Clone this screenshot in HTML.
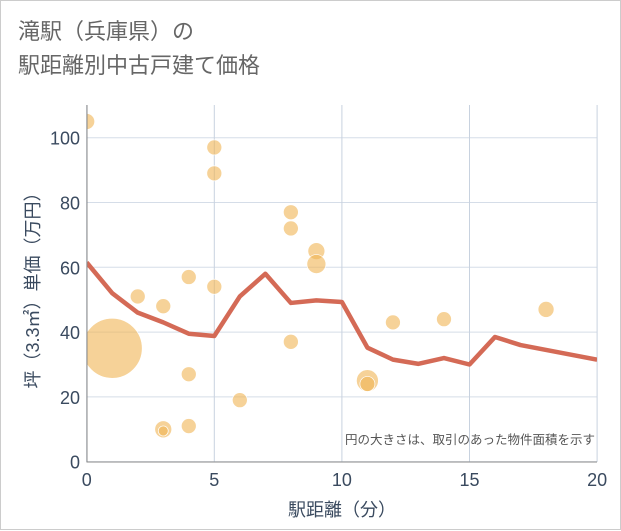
<!DOCTYPE html>
<html><head><meta charset="utf-8"><style>
body{margin:0;background:#fff;}
.w{width:619px;height:528px;border:1px solid #ccc;position:relative;background:#fff;font-family:"Liberation Sans","Noto Sans CJK JP",sans-serif;}
.t{position:absolute;left:17px;top:14px;font-size:22px;line-height:34px;color:#666;}
</style></head><body>
<div class="w">
<div class="t">滝駅（兵庫県）の<br>駅距離別中古戸建て価格</div>
<svg id="s" width="621" height="530" style="position:absolute;left:0;top:0"></svg>
</div>
<script>
const lineX=[0,1,2,3,4,5,6,7,8,9,10,11,12,13,14,15,16,17,18,19,20];
const lineY=[61.5,52,46,43,39.5,38.8,51,58,49,49.8,49.3,35.2,31.5,30.2,32,30,38.5,36,34.5,33,31.5];
const bubX=[0,1,2,3,3,3,4,4,4,5,5,5,6,8,8,8,9,9,11,11,12,14,18];
const bubY=[105,35,51,48,10,9.5,57,27,11,97,89,54,19,77,72,37,65,61,25,24,43,44,47];
const bubR=[8,30,7.5,7.5,8.5,5,7.5,7.5,7.5,7.5,7.5,7.5,7.5,7.5,7.5,7.5,8.5,9.5,11,7.5,7.5,7.5,8];
const xTicks=[0,5,10,15,20];
const yTicks=[0,20,40,60,80,100];
const NS="http://www.w3.org/2000/svg";
const s=document.getElementById('s');
const X=v=>85.7+v*25.52, Y=v=>460.7-v*3.24;
const TC='#3a4a5f';
function mk(t,a,p){const e=document.createElementNS(NS,t);for(const k in a)e.setAttribute(k,a[k]);(p||s).appendChild(e);return e;}
const defs=mk('defs',{});const cp=mk('clipPath',{id:'c'},defs);mk('rect',{x:86,y:104,width:510,height:357},cp);
yTicks.forEach(v=>{const l=mk('line',{x1:86,x2:596,y1:Y(v),y2:Y(v),stroke:'#d5dde8','stroke-width':1});


const t=mk('text',{x:79,y:Y(v)+7,'text-anchor':'end','font-size':18,fill:TC});t.textContent=v;

});
xTicks.forEach(v=>{const l=mk('line',{x1:X(v),x2:X(v),y1:104,y2:461,stroke:'#c8d2df','stroke-width':1});


const t=mk('text',{x:X(v),y:485,'text-anchor':'middle','font-size':18,fill:TC});t.textContent=v;

});
const g=mk('g',{'clip-path':'url(#c)'});
bubX.forEach((x,i)=>{const c=mk('circle',{cx:X(x),cy:Y(bubY[i]),r:bubR[i],fill:'#f0b453','fill-opacity':0.6,stroke:'#fff','stroke-width':0.7},g);

});
const p=mk('polyline',{points:lineX.map((x,i)=>X(x)+','+Y(lineY[i])).join(' '),fill:'none',stroke:'#d46a56','stroke-width':4.5,'stroke-linejoin':'round'},g);


const ax=mk('path',{d:'M86,104V461H596',fill:'none',stroke:'#888','stroke-width':1});


const n=mk('text',{x:594,y:443,'text-anchor':'end','font-size':12.5,fill:'#555'});n.textContent='円の大きさは、取引のあった物件面積を示す';


const xt=mk('text',{x:341,y:515,'text-anchor':'middle','font-size':18,fill:TC});xt.textContent='駅距離（分）';


const yt=mk('text',{x:0,y:0,'text-anchor':'middle','font-size':18,fill:TC,transform:'translate(38,285) rotate(-90)'});yt.textContent='坪（3.3㎡）単価（万円）';


</script>
</body></html>
